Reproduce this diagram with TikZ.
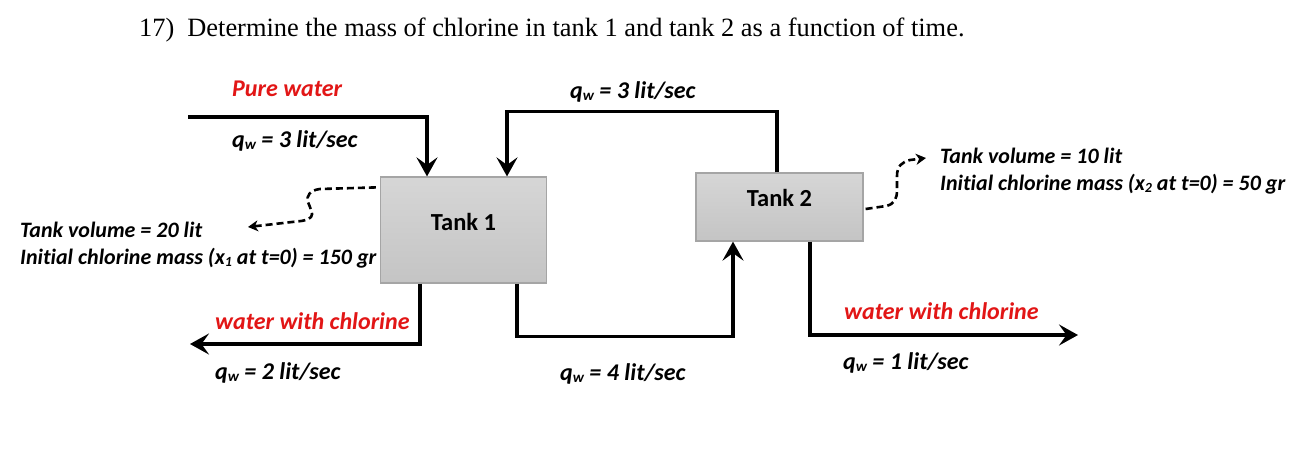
\documentclass[tikz,border=0pt]{standalone}
\usepackage{fontspec}
\setmainfont{Liberation Serif}
\newfontfamily\calfont[Ligatures=NoCommon]{Carlito}
\usetikzlibrary{arrows.meta,calc}
\definecolor{redlab}{RGB}{226,22,22}
\definecolor{tankborder}{RGB}{165,165,165}
\definecolor{tanktop}{RGB}{214,214,214}
\definecolor{tankbot}{RGB}{196,196,196}
\newcommand{\qwsym}{q\raisebox{-0.25ex}{\fontsize{15}{15}\selectfont w}}
\tikzset{
  pipe/.style={line width=3.5pt, -{Stealth[length=19pt,width=21pt,inset=7.5pt]}},
  tank/.style={draw=tankborder, line width=1.2pt, top color=tanktop, bottom color=tankbot, inner sep=0},
  lab/.style={font=\calfont\bfseries\itshape\fontsize{22}{27}\selectfont, inner sep=0, anchor=base west},
  biglab/.style={lab, font=\calfont\bfseries\itshape\fontsize{24}{29}\selectfont},
  redtxt/.style={biglab, text=redlab},
  tanktxt/.style={font=\calfont\bfseries\fontsize{24.5}{29}\selectfont, inner sep=0},
  dasharrow/.style={line width=2.6pt, dash pattern=on 7pt off 4pt, -{Stealth[length=10pt,width=11pt,inset=3pt]}},
}
\begin{document}
\begin{tikzpicture}[x=1pt,y=-1pt]
\fill[white] (0,0) rectangle (1311,448);
\useasboundingbox (0,0) rectangle (1311,448);

% title
\node[anchor=base west, inner sep=0, font=\fontsize{26.4}{32}\selectfont] (title) at (139,36)
  {17)\hspace{13pt}Determine the mass of chlorine in tank 1 and tank 2 as a function of time.};

% tanks
\node[tank, minimum width=166pt, minimum height=106pt] (t1) at (463.5,230) {};
\node[tank, minimum width=167pt, minimum height=68pt] (t2) at (779.5,207) {};
\node[tanktxt] (t1txt) at ([yshift=8pt]t1.center) {Tank 1};
\node[tanktxt] (t2txt) at ([yshift=9pt]t2.center) {Tank 2};

% pipes
\coordinate (pwin) at (188,117);
\coordinate (out1) at (190,344);
\coordinate (out2) at (1078,335);
\draw[pipe] (pwin) -| ([xshift=-36.5pt]t1.north);
\draw[pipe] ([xshift=-2.5pt]t2.north) -- ++(0,-61) -| ([xshift=43.5pt]t1.north);
\draw[pipe] ([xshift=-43.5pt]t1.south) |- (out1);
\draw[pipe] ([xshift=53.5pt]t1.south) -- ++(0,53) -| ([xshift=-46.5pt]t2.south);
\draw[pipe] ([xshift=30.5pt]t2.south) |- (out2);

% dashed pointers
\coordinate (d1end) at (248,227);
\coordinate (d2end) at (926,158);
\draw[dasharrow] ([xshift=-4pt,yshift=-11pt]t1.north west) -- (320,189)
  .. controls (310,190) and (306,196) .. (308,202)
  .. controls (310,208) and (314,214) .. (311,217)
  .. controls (308,221) and (300,221) .. (292,222) -- (d1end);
\draw[dasharrow] ([xshift=2pt,yshift=-2pt]t2.east) -- (886,206)
  .. controls (895,204) and (897,198) .. (897,190) -- (897,176)
  .. controls (897,166) and (902,162) .. (910,160) -- (d2end);

% labels
\node[redtxt] (pure) at (232,96) {Pure water};
\node[biglab] (q1) at (232,147) {\qwsym{} = 3 lit/sec};
\node[biglab] (qtop) at (570,98) {\qwsym{} = 3 lit/sec};
\node[lab] (v1) at (20,237) {Tank volume = 20 lit};
\node[lab] (m1) at (20,264) {Initial chlorine mass (x\raisebox{-0.25ex}{\fontsize{14}{14}\selectfont 1} at t=0) = 150 gr};
\node[lab] (v2) at (940,163) {Tank volume = 10 lit};
\node[lab] (m2) at (940,190) {Initial chlorine mass (x\raisebox{-0.25ex}{\fontsize{14}{14}\selectfont 2} at t=0) = 50 gr};
\node[redtxt] (wc1) at (215,329) {water with chlorine};
\node[biglab] (q2) at (215,379) {\qwsym{} = 2 lit/sec};
\node[biglab] (q4) at (560,380) {\qwsym{} = 4 lit/sec};
\node[redtxt] (wc2) at (844,319) {water with chlorine};
\node[biglab] (q1b) at (843,369) {\qwsym{} = 1 lit/sec};
\end{tikzpicture}
\end{document}
